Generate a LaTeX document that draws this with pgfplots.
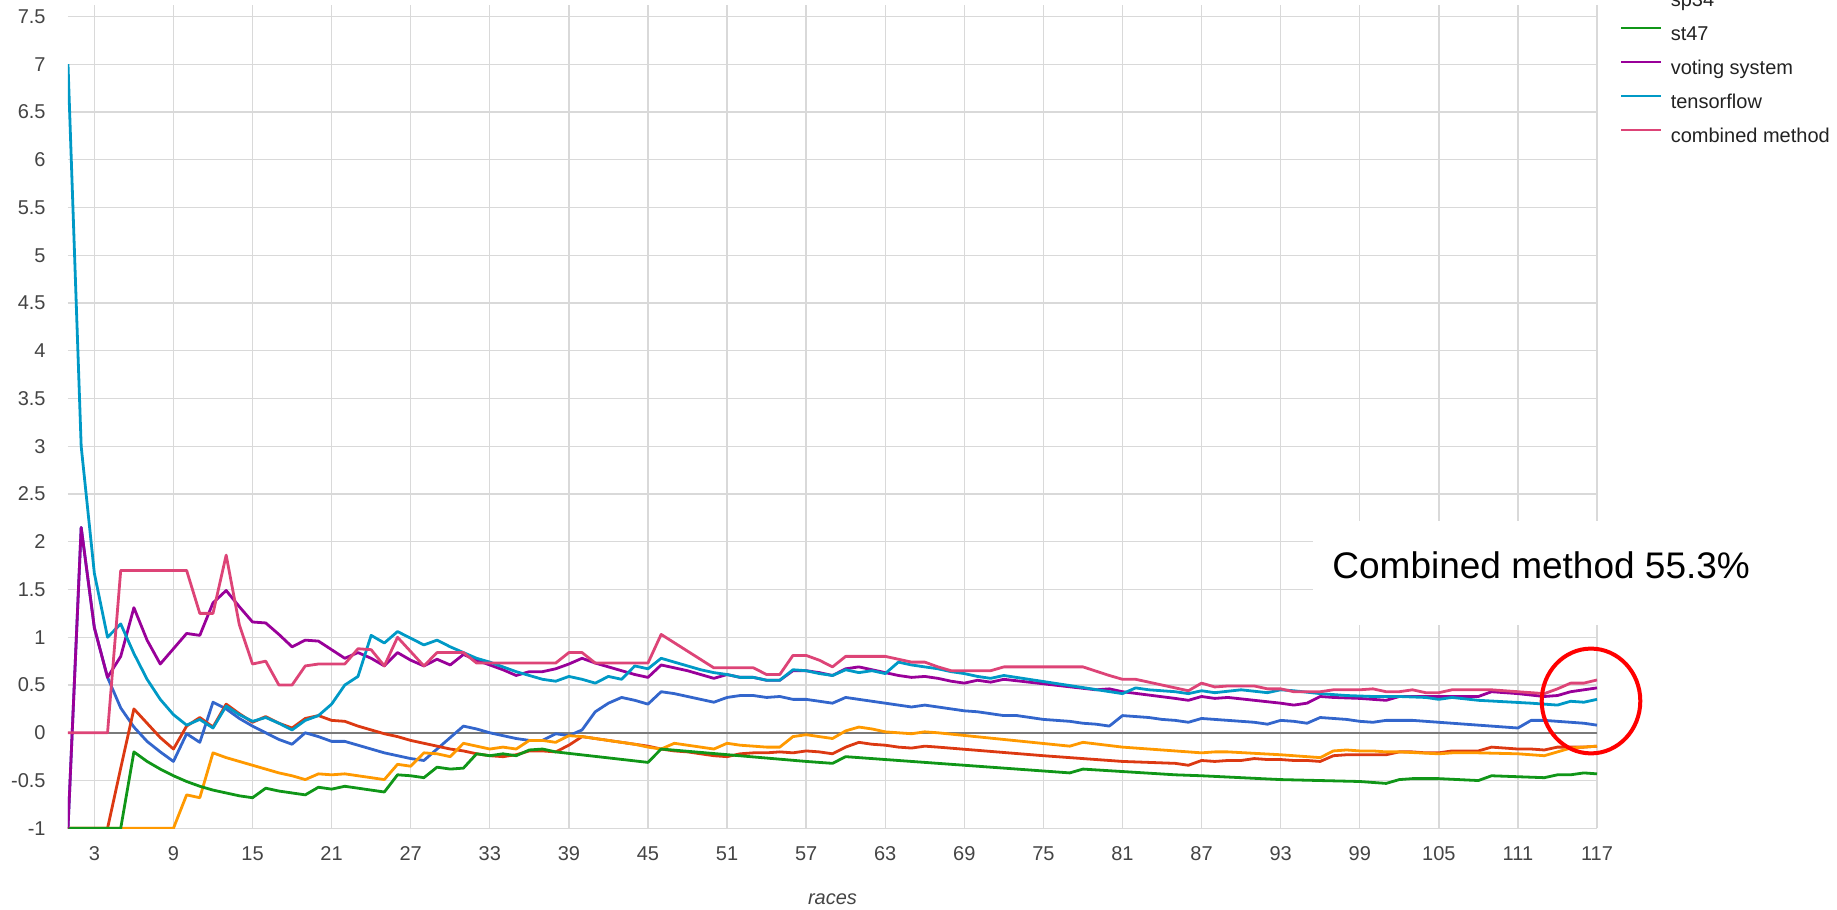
\documentclass[border=0pt]{standalone}
\usepackage{fontspec}
\setmainfont{Liberation Sans}
\usepackage{pgfplots}
\pgfplotsset{compat=1.18}
\definecolor{gblue}{HTML}{3366CC}
\definecolor{gred}{HTML}{DC3912}
\definecolor{gorange}{HTML}{FF9900}
\definecolor{ggreen}{HTML}{109618}
\definecolor{gpurple}{HTML}{990099}
\definecolor{gcyan}{HTML}{0099C6}
\definecolor{gpink}{HTML}{DD4477}
\definecolor{gridc}{HTML}{D9D9D9}
\definecolor{basec}{HTML}{7A7A7A}
\definecolor{tickc}{HTML}{444444}
\definecolor{txtc}{HTML}{222222}

\begin{document}
\begin{tikzpicture}
\begin{axis}[
  at={(0pt,0pt)}, anchor=south west,
  scale only axis, width=764.5pt, height=411.65pt,
  xmin=1, xmax=117, ymin=-1, ymax=7.62,
  xtick={3,9,...,117},
  ytick={-1,-0.5,0,0.5,1,1.5,2,2.5,3,3.5,4,4.5,5,5.5,6,6.5,7,7.5},
  grid=major, grid style={gridc, line width=0.7pt},
  axis line style={draw=none}, major tick length=0pt,
  /pgf/number format/assume math mode=true,
  tick label style={font=\fontsize{10}{12}\selectfont, text=tickc, inner sep=0pt},
  yticklabel style={anchor=east, xshift=-11pt},
  xticklabel style={anchor=north, yshift=-9pt},
  xlabel={races},
  xlabel style={font=\itshape\fontsize{10}{12}\selectfont, text=tickc,
    at={(axis description cs:0.5,0)}, anchor=base, yshift=-38.3pt, inner sep=0pt},
  legend style={at={(1.01504,0.8285)}, anchor=south west, draw=none, fill=none,
    inner sep=0pt, outer sep=0pt, row sep=8pt, column sep=4pt,
    font=\fontsize{10}{12}\selectfont, text=txtc,
    nodes={inner sep=0pt, text height=7pt, text depth=2pt}},
  legend cell align=left,
  legend image code/.code={\path (0pt,0pt); \draw[#1] (0pt,3.6pt) -- (20pt,3.6pt);},
  every axis plot/.append style={line width=1.4pt, line join=round},
]
% zero baseline
\addplot[basec, line width=1pt, forget plot] coordinates {(1,0) (117,0)};

% blue
\addplot[gblue, forget plot] coordinates {
(1,-1) (2,2.15) (3,1.1) (4,0.58) (5,0.26) (6,0.06) (7,-0.09) (8,-0.2) (9,-0.3) (10,-0.01)
(11,-0.1) (12,0.32) (13,0.25) (14,0.15) (15,0.07) (16,0.0) (17,-0.07) (18,-0.12) (19,0.0) (20,-0.04)
(21,-0.09) (22,-0.09) (23,-0.13) (24,-0.17) (25,-0.21) (26,-0.24) (27,-0.27) (28,-0.29) (29,-0.17) (30,-0.05)
(31,0.07) (32,0.04) (33,0.0) (34,-0.03) (35,-0.06) (36,-0.08) (37,-0.08) (38,-0.01) (39,-0.03) (40,0.03)
(41,0.22) (42,0.31) (43,0.37) (44,0.34) (45,0.30) (46,0.43) (47,0.41) (48,0.38) (49,0.35) (50,0.32)
(51,0.37) (52,0.39) (53,0.39) (54,0.37) (55,0.38) (56,0.35) (57,0.35) (58,0.33) (59,0.31) (60,0.37)
(61,0.35) (62,0.33) (63,0.31) (64,0.29) (65,0.27) (66,0.29) (67,0.27) (68,0.25) (69,0.23) (70,0.22)
(71,0.2) (72,0.18) (73,0.18) (74,0.16) (75,0.14) (76,0.13) (77,0.12) (78,0.1) (79,0.09) (80,0.07)
(81,0.18) (82,0.17) (83,0.16) (84,0.14) (85,0.13) (86,0.11) (87,0.15) (88,0.14) (89,0.13) (90,0.12)
(91,0.11) (92,0.09) (93,0.13) (94,0.12) (95,0.1) (96,0.16) (97,0.15) (98,0.14) (99,0.12) (100,0.11)
(101,0.13) (102,0.13) (103,0.13) (104,0.12) (105,0.11) (106,0.1) (107,0.09) (108,0.08) (109,0.07) (110,0.06)
(111,0.05) (112,0.13) (113,0.13) (114,0.12) (115,0.11) (116,0.1) (117,0.08)};

% red
\addplot[gred, forget plot] coordinates {
(1,-1) (4,-1) (5,-0.37) (6,0.25) (7,0.1) (8,-0.05) (9,-0.17) (10,0.07) (11,0.16) (12,0.06)
(13,0.3) (14,0.2) (15,0.11) (16,0.17) (17,0.1) (18,0.05) (19,0.15) (20,0.18) (21,0.13) (22,0.12)
(23,0.07) (24,0.03) (25,-0.01) (26,-0.04) (27,-0.08) (28,-0.11) (29,-0.14) (30,-0.17) (31,-0.19) (32,-0.22)
(33,-0.24) (34,-0.25) (35,-0.23) (36,-0.19) (37,-0.19) (38,-0.2) (39,-0.13) (40,-0.04) (41,-0.06) (42,-0.08)
(43,-0.1) (44,-0.12) (45,-0.14) (46,-0.17) (47,-0.19) (48,-0.2) (49,-0.22) (50,-0.24) (51,-0.25) (52,-0.22)
(53,-0.21) (54,-0.21) (55,-0.2) (56,-0.21) (57,-0.19) (58,-0.2) (59,-0.22) (60,-0.15) (61,-0.1) (62,-0.12)
(63,-0.13) (64,-0.15) (65,-0.16) (66,-0.14) (67,-0.15) (75,-0.24) (81,-0.3) (85,-0.32) (86,-0.34) (87,-0.29)
(88,-0.3) (89,-0.29) (90,-0.29) (91,-0.27) (92,-0.28) (93,-0.28) (94,-0.29) (95,-0.29) (96,-0.3) (97,-0.24)
(98,-0.23) (99,-0.23) (100,-0.23) (101,-0.23) (102,-0.2) (103,-0.2) (104,-0.21) (105,-0.21) (106,-0.19) (107,-0.19)
(108,-0.19) (109,-0.15) (110,-0.16) (111,-0.17) (112,-0.17) (113,-0.18) (114,-0.15) (115,-0.15) (116,-0.15) (117,-0.14)};

% orange
\addplot[gorange] coordinates {
(1,-1) (9,-1) (10,-0.65) (11,-0.68) (12,-0.21) (13,-0.26) (14,-0.3) (15,-0.34) (16,-0.38) (17,-0.42)
(18,-0.45) (19,-0.49) (20,-0.43) (21,-0.44) (22,-0.43) (23,-0.45) (24,-0.47) (25,-0.49) (26,-0.33) (27,-0.35)
(28,-0.21) (29,-0.22) (30,-0.25) (31,-0.11) (32,-0.14) (33,-0.17) (34,-0.15) (35,-0.17) (36,-0.08) (37,-0.08)
(38,-0.1) (39,-0.03) (40,-0.04) (41,-0.06) (42,-0.08) (43,-0.1) (44,-0.12) (45,-0.15) (46,-0.17) (47,-0.11)
(48,-0.13) (49,-0.15) (50,-0.17) (51,-0.11) (52,-0.13) (53,-0.14) (54,-0.15) (55,-0.15) (56,-0.04) (57,-0.02)
(58,-0.04) (59,-0.06) (60,0.02) (61,0.06) (62,0.04) (63,0.01) (64,0.0) (65,-0.01) (66,0.01) (67,0.0)
(77,-0.14) (78,-0.1) (81,-0.15) (85,-0.19) (86,-0.2) (87,-0.21) (88,-0.2) (89,-0.2) (93,-0.23) (96,-0.26)
(97,-0.19) (98,-0.18) (99,-0.19) (100,-0.19) (101,-0.2) (102,-0.2) (105,-0.22) (106,-0.21) (108,-0.21) (111,-0.22)
(112,-0.23) (113,-0.24) (114,-0.2) (115,-0.16) (116,-0.15) (117,-0.14)};
\addlegendentry{sp34}

% green
\addplot[ggreen] coordinates {
(1,-1) (5,-1) (6,-0.2) (7,-0.3) (8,-0.38) (9,-0.45) (10,-0.51) (11,-0.56) (12,-0.6) (13,-0.63)
(14,-0.66) (15,-0.68) (16,-0.58) (17,-0.61) (18,-0.63) (19,-0.65) (20,-0.57) (21,-0.59) (22,-0.56) (23,-0.58)
(24,-0.6) (25,-0.62) (26,-0.44) (27,-0.45) (28,-0.47) (29,-0.36) (30,-0.38) (31,-0.37) (32,-0.22) (33,-0.24)
(34,-0.22) (35,-0.24) (36,-0.18) (37,-0.17) (38,-0.2) (45,-0.31) (46,-0.17) (57,-0.3) (58,-0.31) (59,-0.32)
(60,-0.25) (77,-0.42) (78,-0.38) (85,-0.44) (87,-0.45) (93,-0.49) (99,-0.51) (101,-0.53) (102,-0.49) (103,-0.48)
(105,-0.48) (108,-0.5) (109,-0.45) (111,-0.46) (113,-0.47) (114,-0.44) (115,-0.44) (116,-0.42) (117,-0.43)};
\addlegendentry{st47}

% purple
\addplot[gpurple] coordinates {
(1,-1) (2,2.15) (3,1.1) (4,0.58) (5,0.8) (6,1.31) (7,0.97) (8,0.72) (9,0.88) (10,1.04)
(11,1.02) (12,1.36) (13,1.49) (14,1.32) (15,1.16) (16,1.15) (17,1.03) (18,0.9) (19,0.97) (20,0.96)
(21,0.87) (22,0.78) (23,0.84) (24,0.78) (25,0.7) (26,0.84) (27,0.76) (28,0.7) (29,0.77) (30,0.71)
(31,0.82) (32,0.76) (33,0.71) (34,0.66) (35,0.6) (36,0.64) (37,0.64) (38,0.67) (39,0.72) (40,0.78)
(41,0.73) (42,0.69) (43,0.65) (44,0.61) (45,0.58) (46,0.71) (47,0.68) (48,0.65) (49,0.61) (50,0.57)
(51,0.61) (52,0.58) (53,0.58) (54,0.55) (55,0.55) (56,0.65) (57,0.65) (58,0.63) (59,0.6) (60,0.67)
(61,0.69) (62,0.66) (63,0.63) (64,0.6) (65,0.58) (66,0.59) (67,0.57) (68,0.54) (69,0.52) (70,0.55)
(71,0.53) (72,0.56) (79,0.45) (80,0.46) (81,0.43) (85,0.36) (86,0.34) (87,0.38) (88,0.36) (89,0.37)
(93,0.31) (94,0.29) (95,0.31) (96,0.38) (97,0.37) (99,0.36) (101,0.34) (102,0.38) (108,0.38) (109,0.43)
(111,0.41) (113,0.38) (114,0.39) (115,0.43) (116,0.45) (117,0.47)};
\addlegendentry{voting system}

% cyan
\addplot[gcyan] coordinates {
(1,7.0) (2,3.0) (3,1.67) (4,1.0) (5,1.14) (6,0.83) (7,0.56) (8,0.35) (9,0.19) (10,0.08)
(11,0.14) (12,0.05) (13,0.28) (14,0.19) (15,0.12) (16,0.16) (17,0.1) (18,0.03) (19,0.13) (20,0.18)
(21,0.3) (22,0.5) (23,0.59) (24,1.02) (25,0.94) (26,1.06) (27,0.99) (28,0.92) (29,0.97) (30,0.9)
(31,0.84) (32,0.78) (33,0.74) (34,0.69) (35,0.64) (36,0.6) (37,0.56) (38,0.54) (39,0.59) (40,0.56)
(41,0.52) (42,0.59) (43,0.56) (44,0.7) (45,0.67) (46,0.78) (47,0.74) (48,0.7) (49,0.66) (50,0.63)
(51,0.61) (52,0.58) (53,0.58) (54,0.55) (55,0.55) (56,0.66) (57,0.65) (58,0.62) (59,0.6) (60,0.66)
(61,0.63) (62,0.65) (63,0.62) (64,0.74) (65,0.71) (66,0.69) (67,0.67) (68,0.64) (69,0.62) (70,0.59)
(71,0.57) (72,0.6) (81,0.41) (82,0.47) (83,0.45) (84,0.44) (85,0.43) (86,0.41) (87,0.44) (88,0.42)
(90,0.45) (92,0.42) (93,0.45) (94,0.44) (96,0.41) (98,0.39) (100,0.38) (102,0.38) (104,0.37) (105,0.35)
(106,0.37) (108,0.34) (112,0.31) (114,0.29) (115,0.33) (116,0.32) (117,0.35)};
\addlegendentry{tensorflow}

% pink
\addplot[gpink] coordinates {
(1,0) (4,0) (5,1.7) (10,1.7) (11,1.25) (12,1.25) (13,1.86) (14,1.13) (15,0.72) (16,0.75)
(17,0.5) (18,0.5) (19,0.7) (20,0.72) (22,0.72) (23,0.88) (24,0.87) (25,0.7) (26,1.0) (27,0.85)
(28,0.7) (29,0.84) (31,0.84) (32,0.73) (38,0.73) (39,0.84) (40,0.84) (41,0.73) (45,0.73) (46,1.03)
(50,0.68) (53,0.68) (54,0.61) (55,0.61) (56,0.81) (57,0.81) (58,0.76) (59,0.69) (60,0.8) (63,0.8)
(64,0.77) (65,0.74) (66,0.74) (67,0.69) (68,0.65) (71,0.65) (72,0.69) (78,0.69) (80,0.6) (81,0.56)
(82,0.56) (86,0.44) (87,0.52) (88,0.48) (89,0.49) (91,0.49) (92,0.46) (93,0.46) (94,0.43) (96,0.43)
(97,0.45) (99,0.45) (100,0.46) (101,0.43) (102,0.43) (103,0.45) (104,0.42) (105,0.42) (106,0.45) (109,0.45)
(110,0.44) (111,0.43) (113,0.41) (114,0.46) (115,0.52) (116,0.52) (117,0.553)};
\addlegendentry{combined method}
\end{axis}

% annotation
\fill[white] (622.5pt,101.65pt) rectangle (884.5pt,153.65pt);
\node[anchor=base west, inner sep=0pt, font=\fontsize{18.5}{22}\selectfont] at (632pt,124.85pt) {Combined method 55.3\%};
\draw[red, line width=2pt] (761.5pt,63.65pt) ellipse [x radius=24.65pt, y radius=26.2pt];

\pgfresetboundingbox
\useasboundingbox (-34pt,-40.85pt) rectangle (884.5pt,414.15pt);
\end{tikzpicture}
\end{document}
